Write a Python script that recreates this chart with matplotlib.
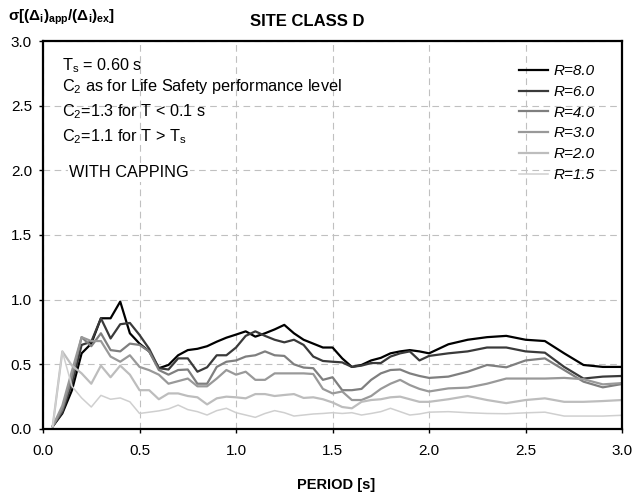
import numpy as np
import matplotlib
matplotlib.use("Agg")
import matplotlib.pyplot as plt

plt.rcParams['font.family'] = ['Liberation Sans', 'DejaVu Sans']
plt.rcParams['mathtext.fontset'] = 'custom'
plt.rcParams['mathtext.rm'] = 'Liberation Sans'
plt.rcParams['mathtext.it'] = 'Liberation Sans:italic'
plt.rcParams['mathtext.bf'] = 'Liberation Sans:bold'

period = [0.05, 0.10, 0.15, 0.20, 0.25, 0.30, 0.35, 0.40, 0.45, 0.50,
          0.55, 0.60, 0.65, 0.70, 0.75, 0.80, 0.85, 0.90, 0.95, 1.00,
          1.05, 1.10, 1.15, 1.20, 1.25, 1.30, 1.35, 1.40, 1.45, 1.50,
          1.55, 1.60, 1.65, 1.70, 1.75, 1.80, 1.85, 1.90, 1.95, 2.0,
          2.1, 2.2, 2.3, 2.4, 2.5, 2.6, 2.7, 2.8, 2.9, 3.0]

r80 = [0.02, 0.12, 0.30, 0.585, 0.66, 0.856, 0.856, 0.985, 0.74, 0.66,
       0.60, 0.47, 0.495, 0.57, 0.61, 0.62, 0.64, 0.675, 0.706, 0.73,
       0.755, 0.714, 0.74, 0.77, 0.805, 0.74, 0.69, 0.66, 0.63, 0.63,
       0.546, 0.48, 0.495, 0.53, 0.55, 0.585, 0.60, 0.61, 0.60, 0.585,
       0.655, 0.69, 0.71, 0.72, 0.69, 0.68, 0.585, 0.495, 0.48, 0.48]

r60 = [0.02, 0.13, 0.35, 0.65, 0.675, 0.856, 0.70, 0.81, 0.82, 0.727,
       0.62, 0.47, 0.46, 0.546, 0.546, 0.443, 0.477, 0.57, 0.57, 0.63,
       0.72, 0.755, 0.72, 0.69, 0.67, 0.69, 0.65, 0.56, 0.526, 0.52,
       0.515, 0.48, 0.49, 0.51, 0.51, 0.56, 0.585, 0.60, 0.53, 0.565,
       0.585, 0.60, 0.63, 0.63, 0.60, 0.59, 0.48, 0.39, 0.405, 0.41]

r40 = [0.02, 0.15, 0.40, 0.71, 0.64, 0.74, 0.61, 0.60, 0.66, 0.65,
       0.60, 0.456, 0.42, 0.456, 0.46, 0.35, 0.35, 0.48, 0.52, 0.53,
       0.56, 0.57, 0.60, 0.57, 0.565, 0.50, 0.475, 0.47, 0.38, 0.40,
       0.30, 0.30, 0.31, 0.38, 0.43, 0.456, 0.46, 0.43, 0.41, 0.395,
       0.405, 0.443, 0.495, 0.477, 0.53, 0.546, 0.456, 0.366, 0.322, 0.348]

r30 = [0.02, 0.18, 0.45, 0.71, 0.68, 0.68, 0.56, 0.52, 0.57, 0.48,
       0.455, 0.42, 0.35, 0.37, 0.39, 0.33, 0.33, 0.39, 0.456, 0.42,
       0.443, 0.38, 0.38, 0.43, 0.43, 0.43, 0.43, 0.425, 0.31, 0.275,
       0.29, 0.224, 0.224, 0.255, 0.31, 0.35, 0.38, 0.34, 0.31, 0.29,
       0.314, 0.32, 0.35, 0.39, 0.39, 0.39, 0.395, 0.385, 0.345, 0.355]

r20 = [0.02, 0.60, 0.49, 0.43, 0.35, 0.49, 0.40, 0.49, 0.42, 0.30,
       0.30, 0.23, 0.275, 0.275, 0.255, 0.245, 0.19, 0.237, 0.25, 0.245,
       0.237, 0.27, 0.27, 0.255, 0.263, 0.27, 0.24, 0.245, 0.23, 0.205,
       0.17, 0.16, 0.21, 0.224, 0.23, 0.245, 0.25, 0.23, 0.21, 0.21,
       0.23, 0.255, 0.224, 0.20, 0.224, 0.237, 0.21, 0.21, 0.216, 0.224]

r15 = [0.02, 0.60, 0.33, 0.24, 0.17, 0.26, 0.23, 0.24, 0.21, 0.12,
       0.13, 0.14, 0.155, 0.185, 0.15, 0.134, 0.108, 0.142, 0.16, 0.126,
       0.108, 0.09, 0.12, 0.142, 0.126, 0.10, 0.108, 0.116, 0.12, 0.126,
       0.12, 0.126, 0.108, 0.12, 0.134, 0.16, 0.134, 0.108, 0.116, 0.13,
       0.134, 0.126, 0.12, 0.118, 0.125, 0.13, 0.10, 0.10, 0.10, 0.106]

labels = ['R=8.0', 'R=6.0', 'R=4.0', 'R=3.0', 'R=2.0', 'R=1.5']
series = [r80, r60, r40, r30, r20, r15]
colors = ['#000000', '#3a3a3a', '#7f7f7f', '#999999', '#bdbdbd', '#cfcfcf']
widths = [1.6, 1.6, 1.6, 1.6, 1.6, 1.1]

fig = plt.figure(figsize=(6.42, 4.94), dpi=100)
ax = fig.add_axes([0.067, 0.1316, 0.902, 0.7854])

for y, lab, c, w in zip(series, labels, colors, widths):
    ax.plot(period, y, color=c, lw=w, label=lab)

ax.set_xlim(0, 3.0)
ax.set_ylim(0, 3.0)
ticks = np.arange(0, 3.01, 0.5)
ax.set_xticks(ticks)
ax.set_yticks(ticks)
ax.set_xticklabels([f'{t:.1f}' for t in ticks])
ax.set_yticklabels([f'{t:.1f}' for t in ticks])
ax.tick_params(direction='out', length=3, width=1, labelsize=11)
ax.tick_params(axis='x', pad=8)
ax.tick_params(axis='y', pad=5)
ax.grid(True, color='#c0c0c0', linestyle=(0, (6, 4)), linewidth=0.8)
ax.set_axisbelow(True)
for s in ax.spines.values():
    s.set_linewidth(1.6)

leg = ax.legend(loc='upper right', bbox_to_anchor=(0.952, 0.94), frameon=False,
                prop={'style': 'italic', 'size': 11}, handlelength=1.9,
                handletextpad=0.33, labelspacing=0.44, borderaxespad=0,
                borderpad=0)

tx = 0.1
fs = 11.7
ax.text(tx, 2.81, r'T$_{\mathrm{s}}$ = 0.60 s', fontsize=fs, va='center')
ax.text(tx, 2.645, r'C$_{2}$ as for Life Safety performance level', fontsize=fs, va='center')
ax.text(tx, 2.45, r'C$_{2}$=1.3 for T < 0.1 s', fontsize=fs, va='center')
ax.text(tx, 2.26, r'C$_{2}$=1.1 for T > T$_{\mathrm{s}}$', fontsize=fs, va='center')
ax.text(0.135, 1.98, 'WITH CAPPING', fontsize=fs, va='center',
        bbox=dict(facecolor='white', edgecolor='none', pad=1))

fig.text(0.479, 0.957, 'SITE CLASS D', fontsize=12, fontweight='bold',
         ha='center', va='center')
fig.text(0.012, 0.965, r'$\mathbf{\sigma[(\Delta_i)_{app}/(\Delta_i)_{ex}]}$',
         fontsize=11, ha='left', va='center')
fig.text(0.523, 0.019, 'PERIOD [s]', fontsize=10.5, fontweight='bold',
         ha='center', va='center')

fig.savefig('out.png', dpi=100)
